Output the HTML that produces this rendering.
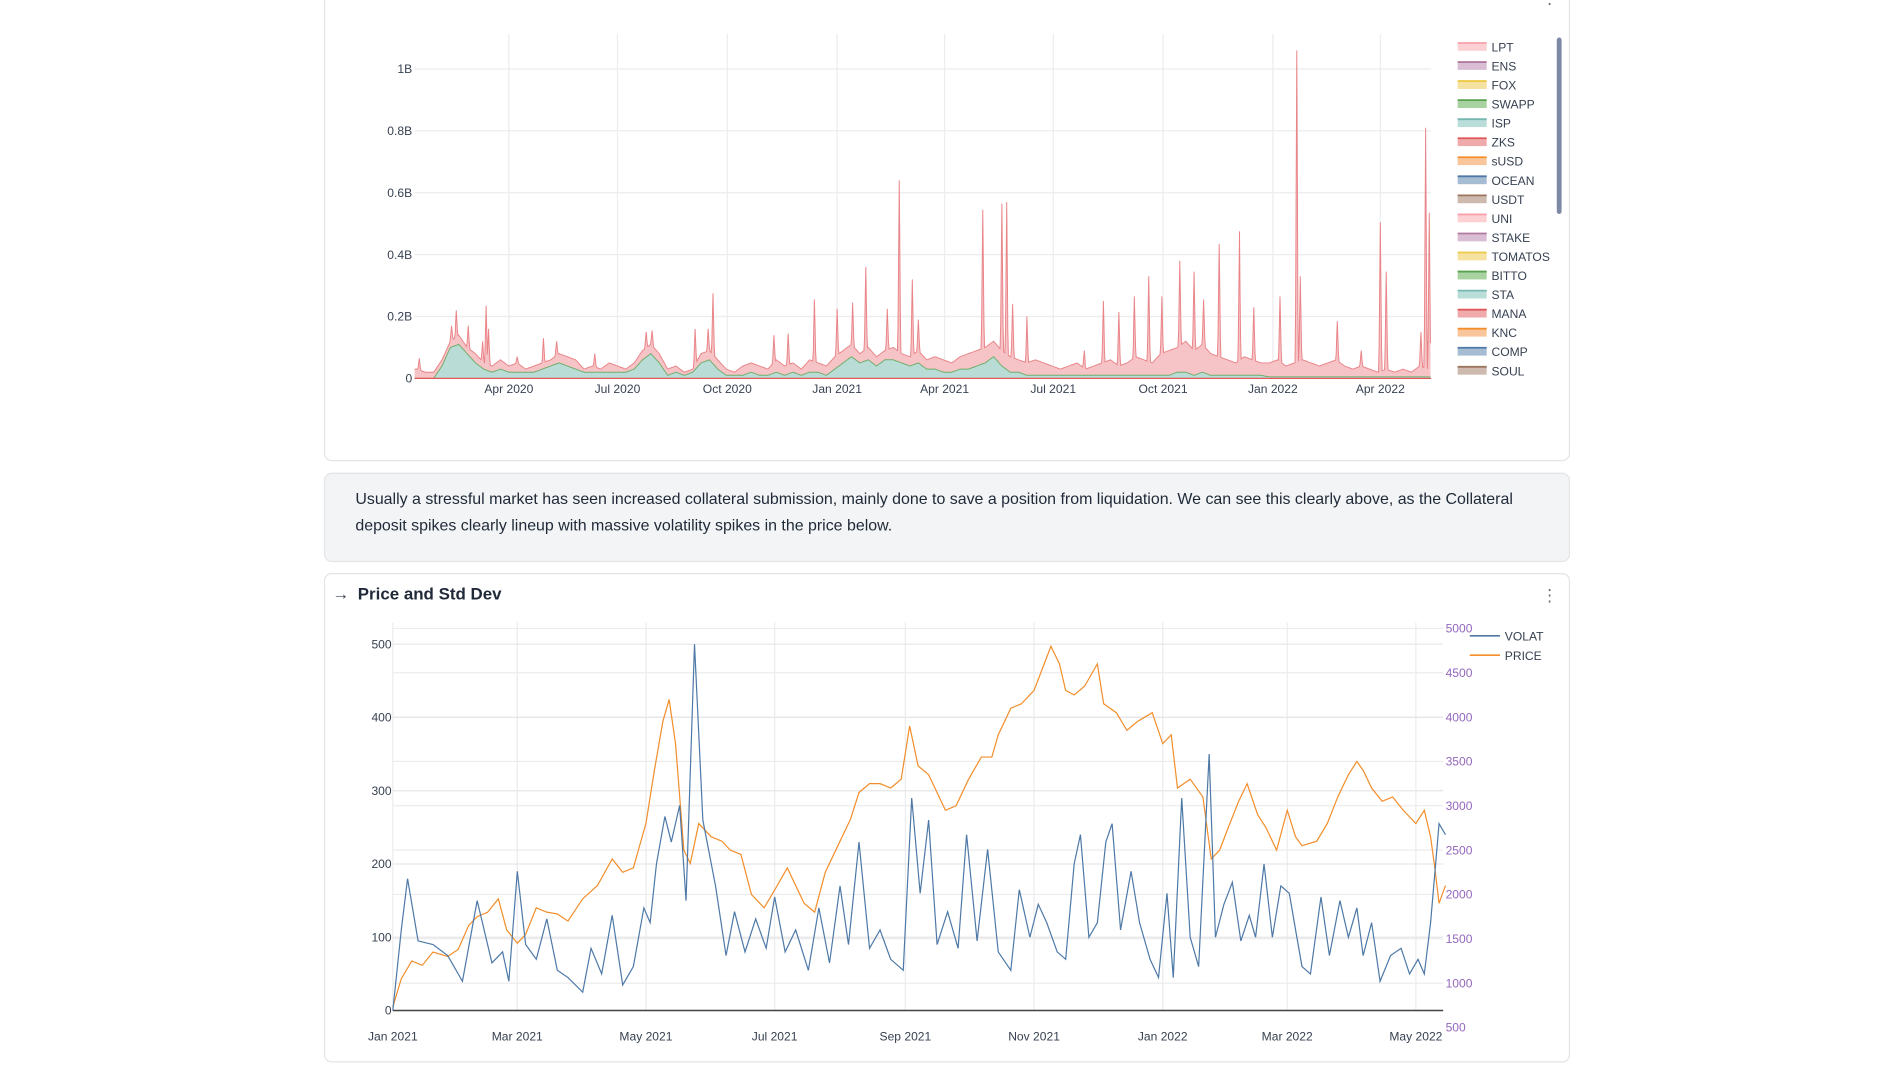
<!DOCTYPE html>
<html><head><meta charset="utf-8"><style>
html,body{margin:0;padding:0;background:#fff;width:1894px;height:1065px;overflow:hidden;font-family:"Liberation Sans",sans-serif}
svg text{font-family:"Liberation Sans",sans-serif}
</style></head><body>
<svg id="root" width="1894" height="1065" viewBox="0 0 1567 881" xmlns="http://www.w3.org/2000/svg">
<rect x="268.5" y="-10" width="1030" height="391" rx="6" fill="#fff" stroke="#e3e4e8"/>
<text x="1282" y="3" font-size="14" fill="#6b7280" text-anchor="middle">⋮</text>
<g id="topChart"></g>
<rect x="1288" y="31" width="4" height="146" rx="2" fill="#7d8aa6"/>
<rect x="268.5" y="391.5" width="1030" height="73" rx="6" fill="#f3f4f6" stroke="#e3e4e8"/>
<text x="294" y="417" font-size="13.2" fill="#1f2937">Usually a stressful market has seen increased collateral submission, mainly done to save a position from liquidation. We can see this clearly above, as the Collateral</text>
<text x="294" y="439" font-size="13.2" fill="#1f2937">deposit spikes clearly lineup with massive volatility spikes in the price below.</text>
<rect x="268.5" y="474.5" width="1030" height="404" rx="6" fill="#fff" stroke="#e3e4e8"/>
<text x="275" y="496" font-size="14" fill="#374151">→</text>
<text x="296" y="496" font-size="14" font-weight="bold" fill="#1f2937">Price and Std Dev</text>
<text x="1282" y="497" font-size="14" fill="#6b7280" text-anchor="middle">⋮</text>
<g id="botChart"></g>
</svg>
<script>
// ---------- top chart data (values in billions, day 0 = 2020-01-01) ----------
const tickLabelsTop = ["Apr 2020","Jul 2020","Oct 2020","Jan 2021","Apr 2021","Jul 2021","Oct 2021","Jan 2022","Apr 2022"];
const tickDaysTop = [91,182,274,366,456,547,639,731,821];
const yTicksTop = [0,0.2,0.4,0.6,0.8,1];
const yTickLabelsTop = ["0","0.2B","0.4B","0.6B","0.8B","1B"];
const legendNames = ["LPT","ENS","FOX","SWAPP","ISP","ZKS","sUSD","OCEAN","USDT","UNI","STAKE","TOMATOS","BITTO","STA","MANA","KNC","COMP","SOUL"];
const legendStroke = ["#f7a1a8","#b07aa1","#edc948","#59a14f","#76b7b2","#e15759","#f28e2b","#4e79a7","#9c755f","#f7a1a8","#b07aa1","#edc948","#59a14f","#76b7b2","#e15759","#f28e2b","#4e79a7","#9c755f"];
const legendFill = ["#fdd0d4","#d9bdd3","#f5e1a0","#a8d3a0","#b9ddd9","#f0aaab","#f8c69a","#a6bcd3","#cdb9ad","#fdd0d4","#d9bdd3","#f5e1a0","#a8d3a0","#b9ddd9","#f0aaab","#f8c69a","#a6bcd3","#cdb9ad"];
const baseStartDay = 14;
const baseTotal = [0.03,0.02,0.02,0.06,0.12,0.14,0.10,0.08,0.05,0.04,0.06,
0.04,0.05,0.03,0.04,0.05,0.06,0.08,0.07,0.06,0.03,0.04,0.03,0.05,
0.04,0.03,0.05,0.09,0.11,0.08,0.03,0.04,0.02,0.03,0.08,0.09,0.06,
0.03,0.02,0.04,0.05,0.04,0.03,0.06,0.04,0.05,0.03,0.06,0.05,0.04,
0.07,0.09,0.11,0.08,0.10,0.07,0.09,0.10,0.08,0.07,0.09,0.06,0.07,
0.06,0.05,0.07,0.08,0.09,0.10,0.12,0.09,0.07,0.06,0.05,0.06,0.05,
0.04,0.03,0.04,0.05,0.03,0.04,0.05,0.06,0.04,0.05,0.07,0.06,0.05,
0.08,0.09,0.10,0.12,0.09,0.11,0.08,0.07,0.06,0.05,0.07,0.06,0.05,
0.05,0.06,0.04,0.05,0.06,0.05,0.04,0.05,0.06,0.04,0.03,0.04,0.03,0.02,0.03,0.02,0.03,0.02,0.04,0.03];
const staValues = [0,0,0,0.04,0.10,0.11,0.08,0.05,0.03,0.02,0.03,
0.02,0.02,0.02,0.02,0.03,0.04,0.05,0.04,0.03,0.02,0.02,0.02,0.02,
0.02,0.02,0.03,0.06,0.08,0.05,0.01,0.02,0.01,0.02,0.05,0.06,0.03,
0.01,0.01,0.01,0.02,0.01,0.01,0.02,0.01,0.02,0.01,0.02,0.02,0.01,
0.03,0.05,0.07,0.05,0.06,0.04,0.06,0.06,0.05,0.04,0.05,0.03,0.03,
0.02,0.02,0.03,0.03,0.04,0.05,0.07,0.04,0.02,0.02,0.01,0.01,0.01,
0.01,0.01,0.01,0.01,0.01,0.01,0.01,0.01,0.01,0.01,0.01,0.01,0.01,
0.01,0.01,0.02,0.02,0.01,0.02,0.01,0.01,0.01,0.01,0.01,0.01,0.01,
0.005,0.005,0.005,0.005,0.005,0.005,0.005,0.005,0.005,0.005,0.005,0.005,0.005,0.005,0.005,0.005,0.005,0.005,0.005,0.005];
const spikeDays = [16,43,47,57,69,72,74,98,120,131,163,206,211,247,258,262,313,325,347,366,379,390,408,418,429,434,488,504,508,513,525,573,589,602,615,627,638,653,665,673,686,703,715,737,751,754,785,805,821,826,855,859,862];
const spikeValues = [0.065,0.17,0.22,0.17,0.12,0.235,0.16,0.07,0.13,0.12,0.08,0.15,0.155,0.16,0.16,0.275,0.14,0.145,0.255,0.225,0.245,0.36,0.225,0.64,0.32,0.19,0.545,0.565,0.57,0.24,0.2,0.09,0.25,0.215,0.265,0.33,0.265,0.38,0.345,0.255,0.435,0.475,0.23,0.265,1.06,0.33,0.185,0.09,0.505,0.345,0.15,0.81,0.535];

// ---------- bottom chart data ----------
const xTickLabelsBot = ["Jan 2021","Mar 2021","May 2021","Jul 2021","Sep 2021","Nov 2021","Jan 2022","Mar 2022","May 2022"];
const xTickDatesBot = ["2021-01-01","2021-03-01","2021-05-01","2021-07-01","2021-09-01","2021-11-01","2022-01-01","2022-03-01","2022-05-01"];
const leftTicks = [0,100,200,300,400,500];
const rightTicks = [500,1000,1500,2000,2500,3000,3500,4000,4500,5000];
const priceDates = ["2021-01-01","2021-01-05","2021-01-10","2021-01-15","2021-01-20","2021-01-27","2021-02-01","2021-02-06","2021-02-10","2021-02-15","2021-02-20","2021-02-24","2021-03-01","2021-03-05","2021-03-10","2021-03-15","2021-03-20","2021-03-25","2021-04-01","2021-04-08","2021-04-15","2021-04-20","2021-04-25","2021-05-01","2021-05-05","2021-05-09","2021-05-12","2021-05-15","2021-05-19","2021-05-22","2021-05-26","2021-06-01","2021-06-06","2021-06-10","2021-06-15","2021-06-20","2021-06-26","2021-07-01","2021-07-07","2021-07-15","2021-07-20","2021-07-25","2021-08-01","2021-08-06","2021-08-10","2021-08-15","2021-08-20","2021-08-25","2021-08-30","2021-09-03","2021-09-07","2021-09-12","2021-09-20","2021-09-25","2021-10-01","2021-10-07","2021-10-12","2021-10-15","2021-10-21","2021-10-26","2021-11-01","2021-11-05","2021-11-09","2021-11-13","2021-11-16","2021-11-20","2021-11-25","2021-12-01","2021-12-04","2021-12-10","2021-12-15","2021-12-20","2021-12-27","2022-01-01","2022-01-05","2022-01-08","2022-01-14","2022-01-20","2022-01-24","2022-01-28","2022-02-01","2022-02-06","2022-02-10","2022-02-15","2022-02-19","2022-02-24","2022-03-01","2022-03-05","2022-03-08","2022-03-15","2022-03-20","2022-03-25","2022-03-30","2022-04-03","2022-04-06","2022-04-10","2022-04-15","2022-04-20","2022-04-25","2022-05-01","2022-05-05","2022-05-08","2022-05-10","2022-05-12","2022-05-15"];
const priceVals = [730,1050,1250,1200,1350,1300,1380,1650,1750,1800,1950,1600,1450,1550,1850,1800,1780,1700,1950,2100,2400,2250,2300,2800,3400,3950,4200,3700,2500,2350,2800,2650,2600,2500,2450,2000,1850,2050,2300,1900,1800,2250,2600,2850,3150,3250,3250,3200,3300,3900,3450,3350,2950,3000,3300,3550,3550,3800,4100,4150,4300,4550,4800,4600,4300,4250,4350,4600,4150,4050,3850,3950,4050,3700,3800,3200,3300,3100,2400,2500,2750,3050,3250,2900,2750,2500,2950,2650,2550,2600,2800,3100,3350,3500,3400,3200,3050,3100,2950,2800,2950,2650,2300,1900,2100];
const volDates = ["2021-01-01","2021-01-05","2021-01-08","2021-01-13","2021-01-20","2021-01-27","2021-02-03","2021-02-10","2021-02-17","2021-02-22","2021-02-25","2021-03-01","2021-03-05","2021-03-10","2021-03-15","2021-03-20","2021-03-25","2021-04-01","2021-04-05","2021-04-10","2021-04-15","2021-04-20","2021-04-25","2021-04-30","2021-05-03","2021-05-06","2021-05-10","2021-05-13","2021-05-17","2021-05-20","2021-05-24","2021-05-28","2021-06-03","2021-06-08","2021-06-12","2021-06-17","2021-06-22","2021-06-27","2021-07-01","2021-07-06","2021-07-11","2021-07-17","2021-07-22","2021-07-27","2021-08-01","2021-08-05","2021-08-10","2021-08-15","2021-08-20","2021-08-25","2021-08-31","2021-09-04","2021-09-08","2021-09-12","2021-09-16","2021-09-21","2021-09-26","2021-09-30","2021-10-05","2021-10-10","2021-10-15","2021-10-21","2021-10-25","2021-10-30","2021-11-03","2021-11-07","2021-11-12","2021-11-16","2021-11-20","2021-11-23","2021-11-27","2021-12-01","2021-12-05","2021-12-08","2021-12-12","2021-12-17","2021-12-21","2021-12-26","2021-12-30","2022-01-03","2022-01-06","2022-01-10","2022-01-14","2022-01-18","2022-01-23","2022-01-26","2022-01-30","2022-02-03","2022-02-07","2022-02-11","2022-02-14","2022-02-18","2022-02-22","2022-02-26","2022-03-02","2022-03-05","2022-03-08","2022-03-12","2022-03-17","2022-03-21","2022-03-26","2022-03-30","2022-04-03","2022-04-06","2022-04-10","2022-04-14","2022-04-19","2022-04-24","2022-04-28","2022-05-02","2022-05-05","2022-05-08","2022-05-12","2022-05-15"];
const volVals = [0,110,180,95,90,75,40,150,65,80,40,190,90,70,125,55,45,25,85,50,130,35,60,140,120,200,265,230,280,150,500,260,170,75,135,80,125,85,155,80,110,55,140,65,170,90,230,85,110,70,55,290,160,260,90,135,85,240,95,220,80,55,165,100,145,120,80,70,200,240,100,120,230,255,110,190,120,70,45,160,45,290,100,60,350,100,145,175,95,130,100,200,100,170,160,110,60,50,155,75,150,100,140,75,120,40,75,85,50,70,50,120,255,240];

const NS = "http://www.w3.org/2000/svg";
function mk(parent, tag, attrs){ const e=document.createElementNS(NS,tag); for(const k in attrs) e.setAttribute(k,attrs[k]); parent.appendChild(e); return e; }

// ---------- top chart ----------
const topG = document.getElementById('topChart');
const tX0=343, tX1=1184, tY0=313, tYtop=28;
const tx = d => 421 + (d-91)*0.98767;
const ty = v => tY0 - v*256;
for(let i=0;i<tickDaysTop.length;i++){
  const g=mk(topG,'line',{x1:tx(tickDaysTop[i]),x2:tx(tickDaysTop[i]),y1:tYtop,y2:tY0,stroke:'#ececef'});
  
  
  const t=mk(topG,'text',{x:tx(tickDaysTop[i]),y:tY0+12,'font-size':10,fill:'#374151','text-anchor':'middle'});
  t.textContent=tickLabelsTop[i];
  
  
}
for(let i=0;i<yTicksTop.length;i++){
  const y=ty(yTicksTop[i]);
  const g=mk(topG,'line',{x1:tX0,x2:tX1,y1:y,y2:y,stroke:'#ececef'});
  
  
  const t=mk(topG,'text',{x:tX0-2,y:y+3.5,'font-size':10,fill:'#374151','text-anchor':'end'});
  t.textContent=yTickLabelsTop[i];
  
  
}
function baseAt(arr,d){ const f=(d-baseStartDay)/7; if(f<=0) return arr[0]; if(f>=arr.length-1) return arr[arr.length-1]; const i=Math.floor(f); return arr[i]+(arr[i+1]-arr[i])*(f-i); }
const dStart=12, dEnd=863;
let totPts=[], staPts=[];
for(let d=dStart; d<=dEnd; d+=0.5){
  let v=baseAt(baseTotal,d);
  for(let k=0;k<spikeDays.length;k++){ const dd=Math.abs(d-spikeDays[k]); if(dd<1.2) v=Math.max(v, spikeValues[k]*(1-dd/1.2)+baseAt(baseTotal,d)*dd/1.2); }
  totPts.push([tx(d),ty(v)]);
  staPts.push([tx(d),ty(baseAt(staValues,d))]);
}
function areaPath(pts){ let s='M'+pts[0][0].toFixed(1)+','+tY0; for(const p of pts) s+='L'+p[0].toFixed(1)+','+p[1].toFixed(1); s+='L'+pts[pts.length-1][0].toFixed(1)+','+tY0+'Z'; return s; }
function linePath(pts){ return 'M'+pts.map(p=>p[0].toFixed(1)+','+p[1].toFixed(1)).join('L'); }
const a1=mk(topG,'path',{d:areaPath(totPts),fill:'#f6c3c6',stroke:'none'});


const a2=mk(topG,'path',{d:areaPath(staPts),fill:'#b9ddd6',stroke:'none'});


const l2=mk(topG,'path',{d:linePath(staPts),fill:'none',stroke:'#6fae6a','stroke-width':0.8});


const l1=mk(topG,'path',{d:linePath(totPts),fill:'none',stroke:'#e98488','stroke-width':0.8});


const zl=mk(topG,'line',{x1:tX0,x2:tX1,y1:tY0,y2:tY0,stroke:'#e15759','stroke-width':1});


for(let i=0;i<legendNames.length;i++){
  const y=39+i*15.76;
  const g=mk(topG,'g',{});
  
  
  mk(g,'rect',{x:1206,y:y-4,width:24,height:7,fill:legendFill[i]});
  mk(g,'line',{x1:1206,x2:1230,y1:y-3.5,y2:y-3.5,stroke:legendStroke[i],'stroke-width':1.5});
  const t=mk(g,'text',{x:1234,y:y+3.5,'font-size':10,fill:'#374151'});
  t.textContent=legendNames[i];
}

// ---------- bottom chart ----------
const botG=document.getElementById('botChart');
const bX0=325, bX1=1194, bY0=836;
const day0=Date.UTC(2021,0,1);
const dOf = s => (Date.parse(s+'T00:00:00Z')-day0)/86400000;
const bx = s => bX0 + dOf(s)*1.7452;
const byL = v => bY0 - v*0.6062;
const byR = v => 850 - (v-500)*0.07336;
for(let i=0;i<xTickDatesBot.length;i++){
  const x=bx(xTickDatesBot[i]);
  const g=mk(botG,'line',{x1:x,x2:x,y1:515,y2:bY0,stroke:'#ececef'});
  
  
  const t=mk(botG,'text',{x:x,y:861,'font-size':10,fill:'#374151','text-anchor':'middle'});
  t.textContent=xTickLabelsBot[i];
  
  
}
for(const v of rightTicks){
  const y=byR(v);
  if(y<bY0){ const g=mk(botG,'line',{x1:bX0,x2:bX1,y1:y,y2:y,stroke:'#ececef'});
  
   }
  const t=mk(botG,'text',{x:1196,y:y+3.5,'font-size':10,fill:'#9467bd'});
  t.textContent=String(v);
  
  
}
for(const v of leftTicks){
  const y=byL(v);
  const g=mk(botG,'line',{x1:bX0,x2:bX1,y1:y,y2:y,stroke:'#e6e6ea'});
  
  
  const t=mk(botG,'text',{x:bX0-1,y:y+3.5,'font-size':10,fill:'#374151','text-anchor':'end'});
  t.textContent=String(v);
  
  
}
const z=mk(botG,'line',{x1:bX0,x2:bX1,y1:bY0,y2:bY0,stroke:'#444','stroke-width':1.2});


const pr=mk(botG,'path',{d:'M'+priceDates.map((d,i)=>bx(d).toFixed(1)+','+byR(priceVals[i]).toFixed(1)).join('L'),fill:'none',stroke:'#f28e2b','stroke-width':1});


const vl=mk(botG,'path',{d:'M'+volDates.map((d,i)=>bx(d).toFixed(1)+','+byL(volVals[i]).toFixed(1)).join('L'),fill:'none',stroke:'#4e79a7','stroke-width':1});


const lg1=mk(botG,'g',{});


mk(lg1,'line',{x1:1216,x2:1241,y1:526,y2:526,stroke:'#4e79a7','stroke-width':1.3});
const lt1=mk(lg1,'text',{x:1245,y:530,'font-size':10,fill:'#374151'}); lt1.textContent='VOLAT';
const lg2=mk(botG,'g',{});


mk(lg2,'line',{x1:1216,x2:1241,y1:542,y2:542,stroke:'#f28e2b','stroke-width':1.3});
const lt2=mk(lg2,'text',{x:1245,y:546,'font-size':10,fill:'#374151'}); lt2.textContent='PRICE';
</script>
</body></html>
